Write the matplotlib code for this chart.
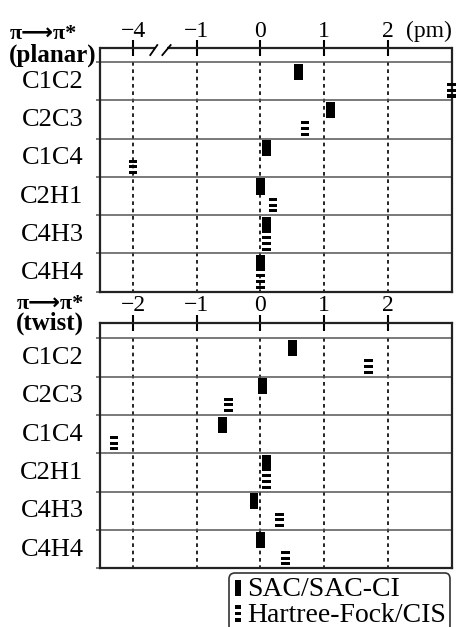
import numpy as np
import matplotlib
matplotlib.use('Agg')
import matplotlib.pyplot as plt
from matplotlib.patches import Rectangle
from matplotlib.legend_handler import HandlerBase

plt.rcParams['font.family'] = ['Liberation Serif', 'DejaVu Serif']

# ---------------- data ----------------
bonds = ['C1C2', 'C2C3', 'C1C4', 'C2H1', 'C4H3', 'C4H4']
planar_sac = [0.60, 1.10, 0.10, 0.00, 0.10, 0.00]
planar_hf = [3.00, 0.70, -4.00, 0.20, 0.10, 0.00]
twist_sac = [0.50, 0.03, -0.60, 0.10, -0.10, 0.00]
twist_hf = [1.70, -0.50, -2.30, 0.10, 0.30, 0.40]
planar_ticks = [-4, -1, 0, 1, 2]
twist_ticks = [-2, -1, 0, 1, 2]
legend_labels = ['SAC/SAC-CI', 'Hartree-Fock/CIS']


def planar_map(v):
    """Broken axis: values below -1 are compressed by a factor 3."""
    v = np.asarray(v, dtype=float)
    return np.where(v >= -1, v, -1 + (v + 1) / 3.0)


def identity(v):
    return np.asarray(v, dtype=float)


W, H = 460, 627
fig = plt.figure(figsize=(W / 100, H / 100), dpi=100)

XLIM = (-2.52, 3.02)
BAR_W = 0.137
LINE_C = '#555555'
SPINE_C = '#222222'
HEAD_FAMILY = ['Liberation Serif', 'DejaVu Sans']


def setup(ax, sac, hf, ticks, xmap, header):
    rows = np.arange(len(bonds))
    ax.set_xlim(*XLIM)
    ax.set_ylim(len(bonds), -header)
    tpos = xmap(ticks)
    ax.set_xticks(tpos)
    ax.set_xticklabels([f'{t:d}'.replace('-', '\u2212') for t in ticks])
    ax.xaxis.tick_top()
    ax.tick_params(axis='x', direction='inout', length=11, width=1.5,
                   color='black', labelsize=17, pad=-1.0)
    ax.set_yticks(np.arange(0, len(bonds) + 1))
    ax.set_yticklabels([])
    ax.tick_params(axis='y', direction='out', length=2.6, width=1.1,
                   color=LINE_C)
    for s in ax.spines.values():
        s.set_linewidth(1.6)
        s.set_color(SPINE_C)
    # dashed verticals
    ax.vlines(tpos, 0, len(bonds), colors='black', linewidth=1.2,
              linestyles=(0, (2.2, 2.2)), zorder=1)
    # row separators
    for r in range(len(bonds)):
        ax.axhline(r, color=LINE_C, linewidth=1.1, zorder=1)
    # SAC markers (solid)
    ax.bar(xmap(sac), 0.42, bottom=rows + 0.04, width=BAR_W,
           color='black', zorder=3, clip_on=False)
    # HF markers (three stripes)
    for k in range(3):
        ax.bar(xmap(hf), 0.08, bottom=rows + 0.545 + 0.15 * k, width=BAR_W,
               color='black', zorder=3, clip_on=False)
    # row labels
    for r, b in enumerate(bonds):
        ax.text(-0.047, r + 0.67, b, transform=ax.get_yaxis_transform(),
                ha='right', va='baseline', fontsize=19)


L = 100 / W
AW = 352.5 / W
ax1 = fig.add_axes([L, 1 - 291.7 / H, AW, (291.7 - 48) / H])
ax2 = fig.add_axes([L, 1 - 568.3 / H, AW, (568.3 - 322.7) / H])

setup(ax1, planar_sac, planar_hf, planar_ticks, planar_map, 0.37)
setup(ax2, twist_sac, twist_hf, twist_ticks, identity, 0.41)

# broken top spine with "//" on the planar panel
ax1.spines['top'].set_visible(False)
tr = ax1.get_xaxis_transform()
ax1.plot([XLIM[0], -1.65], [1, 1], transform=tr, color=SPINE_C, lw=1.6,
         clip_on=False, solid_capstyle='butt')
ax1.plot([-1.47, XLIM[1]], [1, 1], transform=tr, color=SPINE_C, lw=1.6,
         clip_on=False, solid_capstyle='butt')
for x0, x1 in [(-1.73, -1.62), (-1.54, -1.41)]:
    ax1.plot([x0, x1], [0.971, 1.012], transform=tr, color='black', lw=1.3,
             clip_on=False)

# unit label
ax1.text(0.868, 1.025, '(pm)', transform=ax1.transAxes, ha='left',
         va='bottom', fontsize=17)

# panel headers
HEAD = '\u03c0\u27f6\u03c0*'
fig.text(10 / W, 1 - 39 / H, HEAD, fontsize=16, fontweight='bold',
         ha='left', va='baseline', family=HEAD_FAMILY)
fig.text(9 / W, 1 - 62 / H, '(planar)', fontsize=18, fontweight='bold',
         ha='left', va='baseline')
fig.text(17 / W, 1 - 309 / H, HEAD, fontsize=16, fontweight='bold',
         ha='left', va='baseline', family=HEAD_FAMILY)
fig.text(16 / W, 1 - 330 / H, '(twist)', fontsize=18, fontweight='bold',
         ha='left', va='baseline')


# ---------------- legend ----------------
class SolidHandler(HandlerBase):
    def create_artists(self, legend, orig_handle, xdescent, ydescent,
                       width, height, fontsize, trans):
        w = 4.0
        h = height * 0.85
        r = Rectangle((-xdescent + (width - w) / 2, -ydescent), w, h,
                      facecolor='black', edgecolor='none', transform=trans)
        return [r]


class StripeHandler(HandlerBase):
    def create_artists(self, legend, orig_handle, xdescent, ydescent,
                       width, height, fontsize, trans):
        w = 4.0
        h = height * 0.85
        arts = []
        for k in range(3):
            arts.append(Rectangle((-xdescent + (width - w) / 2,
                                   -ydescent + h * 0.4 * k), w, h * 0.2,
                                  facecolor='black', edgecolor='none',
                                  transform=trans))
        return arts


h_sac = Rectangle((0, 0), 1, 1)
h_hf = Rectangle((0, 0), 1, 1)
leg = fig.legend([h_sac, h_hf], legend_labels,
                 handler_map={h_sac: SolidHandler(), h_hf: StripeHandler()},
                 loc='upper left', bbox_to_anchor=(229 / W, 1 - 573 / H),
                 borderaxespad=0, fontsize=20, handlelength=0.35,
                 handleheight=0.7, handletextpad=0.18, labelspacing=0.0,
                 borderpad=0.14, fancybox=True, frameon=True,
                 edgecolor='#333333', framealpha=1)
leg.get_frame().set_linewidth(1.2)

fig.savefig('out.png', dpi=100)
